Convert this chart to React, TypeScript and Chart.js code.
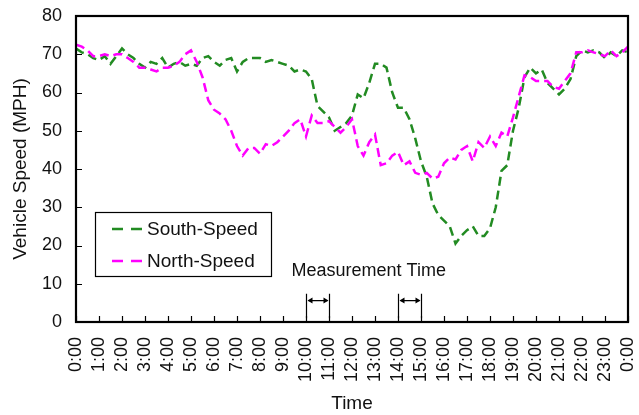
import { useEffect, useRef } from "react";
import { Chart, registerables } from "chart.js";

Chart.register(...registerables);

// Time of day in hours, one sample every 15 minutes (0:00 .. 24:00)
const TIMES: number[] = Array.from({ length: 97 }, (_, i) => i * 0.25);

const SOUTH_SPEED: number[] = [
  71.5, 70.5, 70, 69, 68.5, 69.5, 67.5, 69.5,
  71.5, 70, 69, 67.5, 66.5, 68, 67.5, 69,
  66.5, 67.5, 68, 67, 67.5, 67, 69, 69.5,
  68, 67, 68.5, 69, 65.5, 68, 69, 69,
  69, 68, 68.5, 68, 67.5, 67, 65.5, 66,
  65.5, 63.5, 56.5, 55, 53.5, 50, 51, 52,
  54, 59.5, 58.5, 62.5, 67.5, 67.5, 66.5, 60,
  56, 56, 53, 48, 42, 38, 31, 28,
  26.5, 25, 20.5, 22.5, 24, 25, 22.5, 22.5,
  24.5, 30, 39.5, 41, 50, 56, 64, 66.5,
  65, 66, 62.5, 61, 59.5, 61, 63.5, 69.5,
  71, 70.5, 71, 70.5, 69, 70.5, 69.5, 71,
  70.5,
];

const NORTH_SPEED: number[] = [
  72.5, 72, 71, 69.5, 69.5, 70, 69.5, 70,
  70, 69, 68, 66.5, 66.5, 66, 65.5, 66.5,
  66.5, 67, 68, 70, 71, 68, 64, 58,
  55.5, 54.5, 53, 50, 46, 43.5, 45.5, 45.5,
  44, 46.5, 46, 47, 48.5, 50, 52, 53,
  48.5, 54, 52, 52, 52.5, 51, 49.5, 51,
  53, 46, 43.5, 47, 49, 41, 41.5, 43.5,
  44.5, 41, 42, 39, 38.5, 39, 37.5, 38,
  41.5, 43, 42.5, 45, 46, 42, 47, 45.5,
  48.5, 46, 49.5, 48.5, 53.5, 59, 64.5, 64,
  63, 63, 63, 61.5, 61, 63, 65, 70.5,
  70.5, 71, 70.5, 70, 69.5, 71, 69.5, 70.5,
  72,
];

const X_TICK_LABELS: string[] = [
  "0:00", "1:00", "2:00", "3:00", "4:00", "5:00", "6:00", "7:00", "8:00",
  "9:00", "10:00", "11:00", "12:00", "13:00", "14:00", "15:00", "16:00",
  "17:00", "18:00", "19:00", "20:00", "21:00", "22:00", "23:00", "0:00",
];

const SERIES_NAMES: string[] = ["South-Speed", "North-Speed"];
const SERIES_COLORS: string[] = ["#228b22", "#ff00ff"];

// Measurement windows (hours) shown with bracket arrows
const MEASUREMENT_WINDOWS: number[][] = [
  [10, 11],
  [14, 15],
];
const MEASUREMENT_LABEL = "Measurement Time";

const FONT = "'Liberation Sans', Arial, sans-serif";
const TEXT = "#111";

const decorPlugin = {
  id: "decor",
  afterDraw(chart: any) {
    const { ctx, chartArea, scales } = chart;
    const xs = scales.x;
    const ys = scales.y;
    const { left, right, top, bottom } = chartArea;
    ctx.save();

    // inward tick marks
    ctx.strokeStyle = "#000";
    ctx.lineWidth = 1.2;
    ctx.beginPath();
    for (let v = 0; v <= 80; v += 10) {
      const y = Math.round(ys.getPixelForValue(v)) + 0.5;
      ctx.moveTo(left, y);
      ctx.lineTo(left + 6, y);
    }
    for (let h = 0; h <= 24; h++) {
      const x = Math.round(xs.getPixelForValue(h)) + 0.5;
      ctx.moveTo(x, bottom);
      ctx.lineTo(x, bottom - 6);
    }
    ctx.stroke();

    // frame
    ctx.lineWidth = 2.2;
    ctx.strokeRect(left, top, right - left, bottom - top);

    // legend box
    const lx = left + 19;
    const ly = top + 196;
    const lw = 176;
    const lh = 64;
    ctx.fillStyle = "#fff";
    ctx.fillRect(lx, ly, lw, lh);
    ctx.lineWidth = 1.2;
    ctx.strokeStyle = "#000";
    ctx.strokeRect(lx + 0.5, ly + 0.5, lw, lh);
    ctx.font = `19px ${FONT}`;
    ctx.textBaseline = "middle";
    ctx.textAlign = "left";
    SERIES_NAMES.forEach((name, i) => {
      const cy = ly + 17 + i * 32;
      ctx.strokeStyle = SERIES_COLORS[i];
      ctx.lineWidth = 2.5;
      ctx.beginPath();
      ctx.moveTo(lx + 17, cy);
      ctx.lineTo(lx + 28, cy);
      ctx.moveTo(lx + 36, cy);
      ctx.lineTo(lx + 47, cy);
      ctx.stroke();
      ctx.fillStyle = TEXT;
      ctx.fillText(name, lx + 52, cy + 1);
    });

    // measurement annotation
    ctx.font = `18px ${FONT}`;
    ctx.fillStyle = TEXT;
    ctx.textAlign = "left";
    ctx.fillText(MEASUREMENT_LABEL, xs.getPixelForValue(9.37), ys.getPixelForValue(13.3));
    ctx.strokeStyle = "#000";
    ctx.fillStyle = "#000";
    ctx.lineWidth = 1.2;
    const yTop = ys.getPixelForValue(7.4);
    const yBot = ys.getPixelForValue(1.0);
    const yArr = ys.getPixelForValue(5.6);
    MEASUREMENT_WINDOWS.forEach(([a, b]) => {
      const xa = Math.round(xs.getPixelForValue(a)) + 0.5;
      const xb = Math.round(xs.getPixelForValue(b)) + 0.5;
      ctx.beginPath();
      ctx.moveTo(xa, yTop);
      ctx.lineTo(xa, yBot);
      ctx.moveTo(xb, yTop);
      ctx.lineTo(xb, yBot);
      ctx.moveTo(xa + 2, yArr);
      ctx.lineTo(xb - 2, yArr);
      ctx.stroke();
      ctx.beginPath();
      ctx.moveTo(xa + 1, yArr);
      ctx.lineTo(xa + 6, yArr - 3);
      ctx.lineTo(xa + 6, yArr + 3);
      ctx.closePath();
      ctx.moveTo(xb - 1, yArr);
      ctx.lineTo(xb - 6, yArr - 3);
      ctx.lineTo(xb - 6, yArr + 3);
      ctx.closePath();
      ctx.fill();
    });

    ctx.restore();
  },
};

export default function App() {
  const canvasRef = useRef<HTMLCanvasElement | null>(null);

  useEffect(() => {
    document.body.style.margin = "0";
    const canvas = canvasRef.current;
    if (!canvas) return;

    const seriesValues = [SOUTH_SPEED, NORTH_SPEED];
    const chart = new Chart(canvas, {
      type: "line",
      data: {
        datasets: seriesValues.map((vals, i) => ({
          label: SERIES_NAMES[i],
          data: TIMES.map((t, j) => ({ x: t, y: vals[j] })),
          borderColor: SERIES_COLORS[i],
          backgroundColor: SERIES_COLORS[i],
          borderWidth: 2.5,
          borderDash: [9, 5],
          pointRadius: 0,
          tension: 0,
          fill: false,
          order: 1 - i,
        })),
      },
      options: {
        animation: false,
        responsive: false,
        maintainAspectRatio: false,
        layout: { padding: { left: 0, top: 16, right: 11, bottom: 0 } },
        plugins: {
          legend: { display: false },
          tooltip: { enabled: false },
        },
        scales: {
          x: {
            type: "linear",
            min: 0,
            max: 24,
            grid: { display: false, drawTicks: false },
            border: { display: false },
            ticks: {
              stepSize: 1,
              autoSkip: false,
              maxRotation: 90,
              minRotation: 90,
              padding: 15,
              color: TEXT,
              font: { size: 18, family: FONT },
              callback: (v: any) => X_TICK_LABELS[Math.round(Number(v))] ?? "",
            },
            title: {
              display: true,
              text: "Time",
              color: TEXT,
              font: { size: 19, family: FONT },
              padding: { top: 0, bottom: 0 },
            },
            afterFit: (s: any) => {
              s.height = 93;
              s.paddingLeft = 0;
              s.paddingRight = 0;
            },
          },
          y: {
            min: 0,
            max: 80,
            grid: { display: false, drawTicks: false },
            border: { display: false },
            ticks: {
              stepSize: 10,
              padding: 14,
              color: TEXT,
              font: { size: 18, family: FONT },
            },
            title: {
              display: true,
              text: "Vehicle Speed (MPH)",
              color: TEXT,
              font: { size: 19, family: FONT },
              padding: { top: 9, bottom: 0 },
            },
            afterFit: (s: any) => {
              s.width = 76;
              s.paddingTop = 0;
              s.paddingBottom = 0;
            },
          },
        },
      },
      plugins: [decorPlugin],
    });

    return () => chart.destroy();
  }, []);

  return (
    <div style={{ width: 639, height: 415, position: "relative" }}>
      <canvas ref={canvasRef} width={639} height={415} style={{ display: "block" }} />
    </div>
  );
}
